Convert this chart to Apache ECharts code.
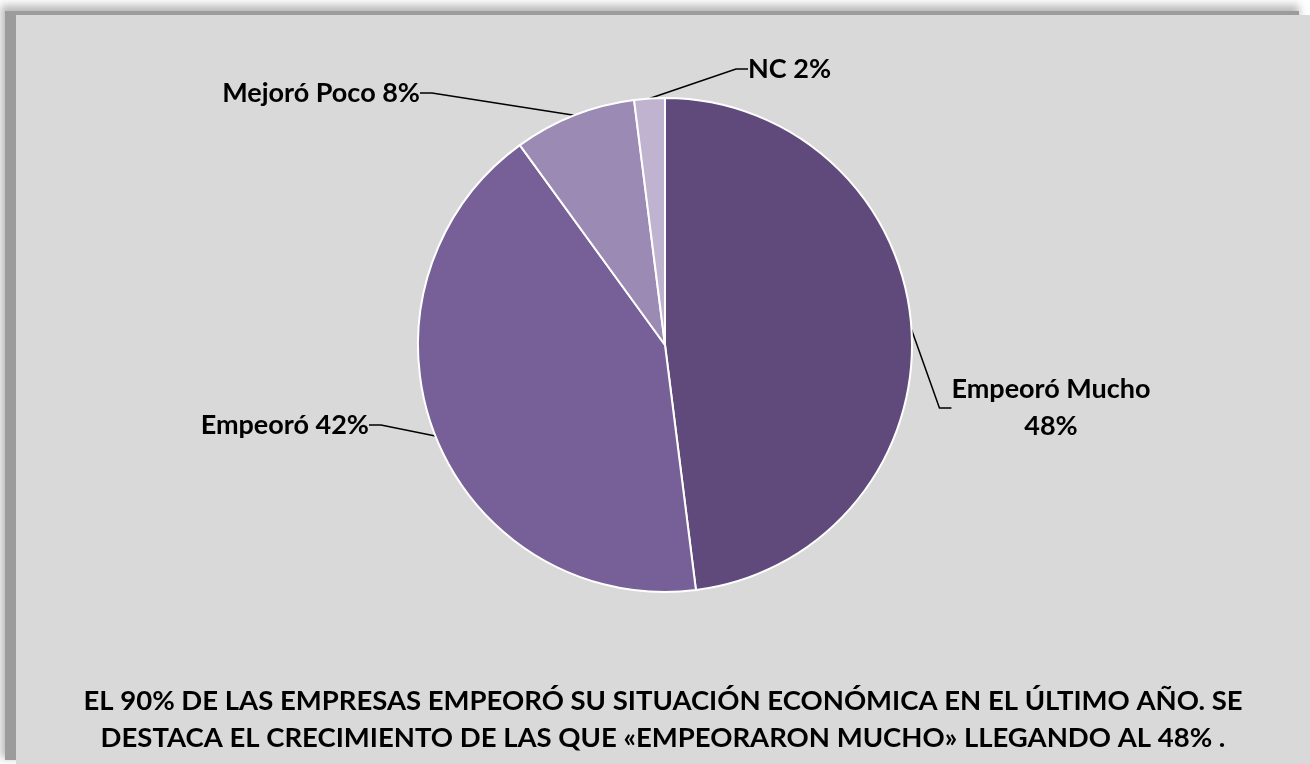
<!DOCTYPE html>
<html>
<head>
<meta charset="utf-8">
<script src="https://cdn.jsdelivr.net/npm/echarts@6/dist/echarts.min.js"></script>
<style>
html, body { margin: 0; padding: 0; background: #ffffff; width: 1310px; height: 764px; overflow: hidden; }
#panel { position: absolute; left: 16px; top: 15px; width: 1294px; height: 749px; background: #d9d9d9;
  box-shadow: -11px -4px 0 0 #9c9c9c, -13px -8px 8px 2px rgba(120,120,120,0.5); }
#chart { position: absolute; left: 16px; top: 15px; width: 1294px; height: 749px; }
</style>
</head>
<body>
<div id="panel"></div>
<div id="chart"></div>
<script>
const categories = ['Empeoró Mucho', 'Empeoró', 'Mejoró Poco', 'NC'];
const values = [48, 42, 8, 2];
const titleLines = [
  'EL 90% DE LAS EMPRESAS EMPEORÓ SU SITUACIÓN ECONÓMICA EN EL ÚLTIMO AÑO. SE',
  'DESTACA EL CRECIMIENTO DE LAS QUE «EMPEORARON MUCHO» LLEGANDO AL 48% .'
];

const colors = ['#604a7b', '#775f97', '#9b8ab3', '#bfb3d0'];
const labelSep = ['\n', ' ', ' ', ' '];
// label anchor placement (layout), in chart pixels
const labelPlace = [
  { x: 1035, y: 393, align: 'center' },
  { x: 353, y: 410, align: 'right' },
  { x: 404, y: 78, align: 'right' },
  { x: 732, y: 54, align: 'left' }
];

const FONT = 'Lato';
const chart = echarts.init(document.getElementById('chart'), null, { renderer: 'canvas' });
chart.setOption({
  animation: false,
  backgroundColor: 'transparent',
  title: {
    text: titleLines.join('\n'),
    left: 'center',
    top: 668,
    padding: 0,
    textStyle: { fontFamily: FONT, fontWeight: 'bold', fontSize: 27.5, lineHeight: 37, color: '#000' }
  },
  series: [{
    type: 'pie',
    center: [649, 330],
    radius: 247,
    startAngle: 90,
    clockwise: true,
    avoidLabelOverlap: false,
    data: categories.map((c, i) => ({ name: c, value: values[i], itemStyle: { color: colors[i] } })),
    itemStyle: { borderColor: '#ffffff', borderWidth: 2 },
    label: {
      show: true,
      position: 'outside',
      fontFamily: FONT,
      fontWeight: 'bold',
      fontSize: 27,
      lineHeight: 37,
      color: '#000',
      formatter: p => p.name + labelSep[p.dataIndex] + p.value + '%'
    },
    labelLine: { show: true, length: 20, length2: 12, smooth: false, lineStyle: { color: '#000', width: 1.5 } },
    labelLayout: function (params) {
      const pl = labelPlace[params.dataIndex];
      return { x: pl.x, y: pl.y, align: pl.align, verticalAlign: 'middle' };
    },
    emphasis: { disabled: true }
  }]
});
</script>
</body>
</html>
